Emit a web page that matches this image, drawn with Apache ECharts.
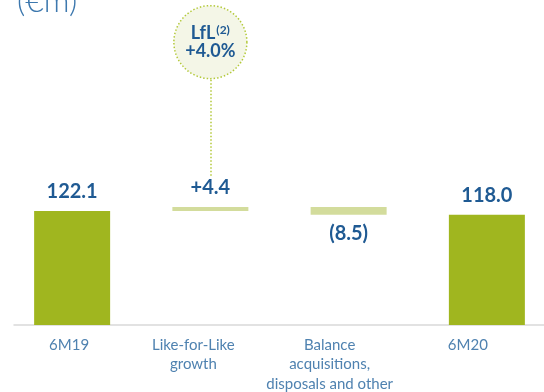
<!DOCTYPE html>
<html>
<head>
<meta charset="utf-8">
<script src="https://cdn.jsdelivr.net/npm/echarts@6/dist/echarts.min.js"></script>
<style>
  html, body { margin: 0; padding: 0; background: #ffffff; }
  #chart { width: 544px; height: 392px; }
</style>
</head>
<body>
<div id="chart"></div>
<script>
// Waterfall of sales (€m): opening total, movements, closing total
const categories = ['6M19', 'Like-for-Like\ngrowth', 'Balance\nacquisitions,\ndisposals and other', '6M20'];
const openingTotal = 122.1;
const movements = [4.4, -8.5];           // LfL growth, balance of acquisitions/disposals
const closingTotal = 118.0;
const valueLabels = ['122.1', '+4.4', '(8.5)', '118.0'];
const lflGrowthPct = '+4.0%';

const GREEN = '#a0b61f';
const LIGHT = '#d3dc9c';
const NAVY = '#1f5a93';

// leftward nudge (px) of each category caption under its column
const captionNudge = [3, 17, 19, 19];

// Build invisible base + visible step for each column
const baseData = [];
const stepData = [];
let running = openingTotal;
baseData.push(0);
stepData.push({ value: openingTotal, itemStyle: { color: GREEN } });
movements.forEach(function (d) {
  const low = d >= 0 ? running : running + d;
  baseData.push(low);
  stepData.push({
    value: Math.abs(d),
    itemStyle: { color: LIGHT },
    label: { position: d >= 0 ? 'top' : 'bottom' }
  });
  running += d;
});
baseData.push(0);
stepData.push({ value: closingTotal, itemStyle: { color: GREEN } });

const axisCategories = categories.map(function (c, i) {
  return { value: c, textStyle: { padding: [0, captionNudge[i] * 2, 0, 0] } };
});

const chart = echarts.init(document.getElementById('chart'), null, { renderer: 'canvas' });

chart.setOption({
  animation: false,
  backgroundColor: '#ffffff',
  title: {
    text: '(€m)',
    left: 12,
    top: -19,
    textStyle: { fontFamily: 'Lato', fontSize: 32, fontWeight: 300, color: '#3d78ae' }
  },
  grid: [
    { left: 3, right: -12, top: 7.6, bottom: 67, outerBoundsMode: 'none' },
    { left: 14, right: 0, top: 7.6, bottom: 67, outerBoundsMode: 'none' }
  ],
  xAxis: [
    {
      type: 'category',
      gridIndex: 0,
      data: axisCategories,
      axisLine: { show: false },
      axisTick: { show: false },
      axisLabel: {
        interval: 0,
        hideOverlap: false,
        margin: 10,
        fontFamily: 'Lato',
        fontSize: 15,
        lineHeight: 19.5,
        color: '#4f82b0'
      }
    },
    {
      type: 'category',
      gridIndex: 1,
      data: categories,
      axisLine: { show: true, lineStyle: { color: '#d9d9d9', width: 1.5 } },
      axisTick: { show: false },
      axisLabel: { show: false }
    }
  ],
  yAxis: [
    { type: 'value', gridIndex: 0, min: 0, max: 340, show: false, splitLine: { show: false } },
    { type: 'value', gridIndex: 1, min: 0, max: 340, show: false, splitLine: { show: false } }
  ],
  series: [
    {
      type: 'bar',
      stack: 'wf',
      barWidth: 76,
      silent: true,
      itemStyle: { color: 'transparent' },
      data: baseData
    },
    {
      type: 'bar',
      stack: 'wf',
      barWidth: 76,
      data: stepData,
      label: {
        show: true,
        position: 'top',
        distance: 9,
        fontFamily: 'Lato',
        fontWeight: 700,
        fontSize: 20,
        color: NAVY,
        formatter: function (p) { return valueLabels[p.dataIndex]; }
      },
      markPoint: {
        silent: true,
        symbol: 'circle',
        symbolSize: 73,
        itemStyle: {
          color: '#f4f6e7',
          borderColor: '#b3c93a',
          borderWidth: 1.5,
          borderType: [1.5, 2]
        },
        label: {
          show: true,
          position: 'inside',
          formatter: '{a|LfL}{s|(2)}\n{a|' + lflGrowthPct + '}',
          rich: {
            a: { fontFamily: 'Lato', fontWeight: 700, fontSize: 18, lineHeight: 18, color: NAVY },
            s: { fontFamily: 'Lato', fontWeight: 700, fontSize: 12, lineHeight: 18, color: NAVY, padding: [0, 0, 7, 1] }
          }
        },
        data: [{ coord: [1, 303] }]
      },
      markLine: {
        silent: true,
        symbol: 'none',
        label: { show: false },
        lineStyle: { color: '#b3c93a', width: 1.5, type: [1.5, 2] },
        data: [[{ coord: [1, 160] }, { coord: [1, 264] }]]
      }
    }
  ]
});
</script>
</body>
</html>
